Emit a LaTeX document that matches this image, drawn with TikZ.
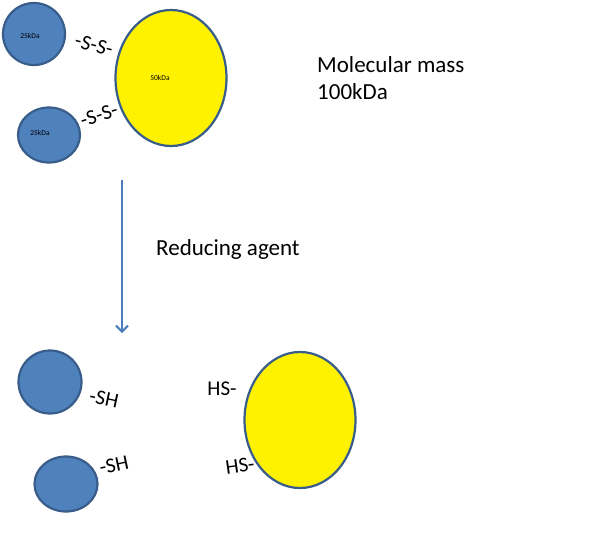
\documentclass[tikz,border=0pt]{standalone}
\usepackage{fontspec}
\setmainfont{Carlito}
\usetikzlibrary{shapes.geometric,arrows.meta}
\definecolor{chainfill}{HTML}{4F81BD}
\definecolor{chainline}{HTML}{385D8A}
\definecolor{arrowblue}{HTML}{4A7EBB}
\tikzset{
light/.style={ellipse, draw=chainline, line width=2.2pt, fill=chainfill, inner sep=0pt},
heavy/.style={ellipse, draw=chainline, line width=2.2pt, fill=yellow, inner sep=0pt},
bond/.style={font=\fontsize{21}{21}\selectfont, inner sep=0pt},
mass/.style={font=\fontsize{7.5}{7.5}\selectfont, inner sep=0pt},
note/.style={font=\fontsize{23}{27}\selectfont, inner sep=0pt, anchor=west, align=left}
}
\begin{document}
\begin{tikzpicture}[x=1pt, y=-1pt]
\useasboundingbox (0,0) rectangle (612,555);
% intact molecule
\node[light, minimum width=62, minimum height=62] (l1) at (34,34) {};
\node[light, minimum width=62, minimum height=55] (l2) at (49,135) {};
\node[heavy, minimum width=111, minimum height=136] (h) at (171,78) {};
\node[mass] (m1) at (30,36) {25kDa};
\node[mass] (m2) at (40,133) {25kDa};
\node[mass] (m3) at (160,78) {50kDa};
\node[bond, rotate=-15] (ss1) at (94,45) {-S-S-};
\node[bond, rotate=18] (ss2) at (99,115) {-S-S-};
\node[note] (mw) at (317,78) {Molecular mass\\100kDa};
% reduction
\coordinate (top) at (122,180);
\coordinate (bot) at (122,333);
\draw[arrowblue, line width=2pt, -{Straight Barb[length=6pt, width=12pt]}] (top) -- (bot);
\node[note] (agent) at (156,249) {Reducing agent};
% separated chains
\node[light, minimum width=63, minimum height=63] (l3) at (50,382) {};
\node[light, minimum width=63, minimum height=55] (l4) at (66,484) {};
\node[heavy, minimum width=111, minimum height=136] (h2) at (300,420) {};
\node[bond, rotate=-12] (sh1) at (104,399) {-SH};
\node[bond, rotate=12] (sh2) at (114,465) {-SH};
\node[bond] (hs1) at (222,389) {HS-};
\node[bond, rotate=8] (hs2) at (240,466) {HS-};
\end{tikzpicture}
\end{document}
